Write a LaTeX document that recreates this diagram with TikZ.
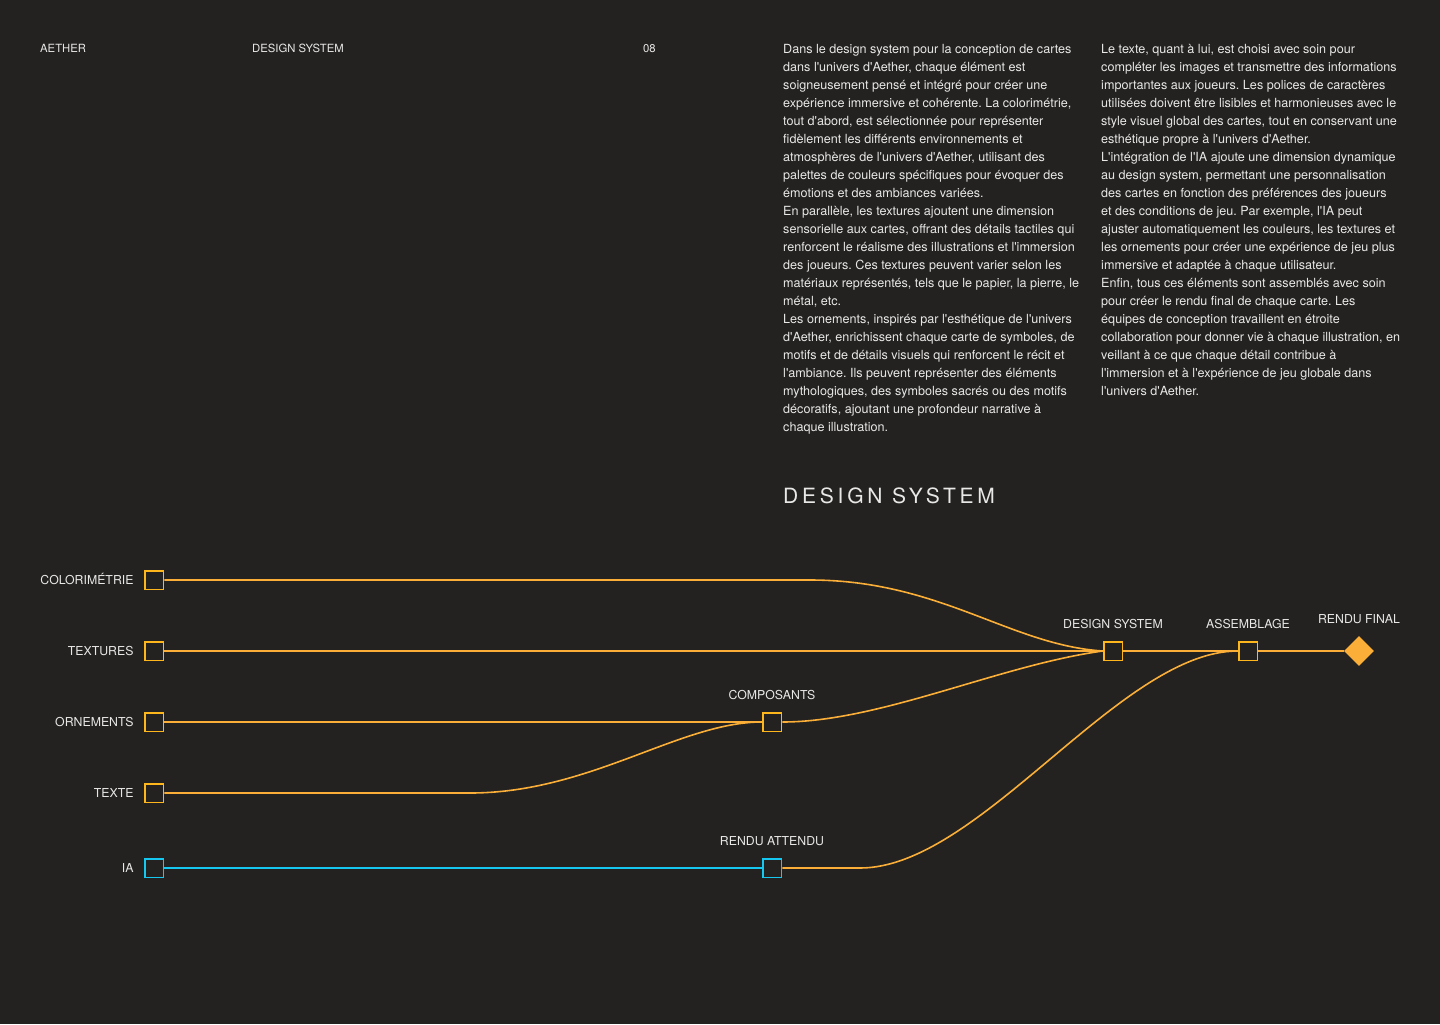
\documentclass[tikz,border=0pt]{standalone}
\usepackage{fontspec}
\setmainfont{TeX Gyre Heros}[Ligatures=TeXOff]
\usetikzlibrary{positioning,shapes.geometric}
\definecolor{AEBg}{HTML}{232221}
\definecolor{AEText}{HTML}{E8E8E6}
\definecolor{AEOrange}{HTML}{FBAF38}
\definecolor{AEAmber}{HTML}{FDB71C}
\definecolor{AECyan}{HTML}{16C8F0}
\newcommand{\AEbody}{\fontsize{12.6bp}{18bp}\selectfont\frenchspacing}

\begin{document}
\begin{tikzpicture}[x=1bp,y=-1bp,
  tag/.style={text=AEText,font=\fontsize{12.3bp}{15bp}\selectfont,inner sep=0pt,text height=8.9bp,text depth=0pt},
  head/.style={tag,font=\fontsize{11.3bp}{14bp}\selectfont,anchor=base west},
  para/.style={text=AEText,font=\AEbody,align=left,inner sep=0pt,anchor=base west},
  box/.style={draw=AEAmber,fill=AEBg,line width=1.8bp,minimum size=18.8bp,inner sep=0pt},
  aibox/.style={box,draw=AECyan},
  final/.style={diamond,fill=AEOrange,minimum size=30bp,inner sep=0pt},
  wire/.style={AEOrange,line width=1.6bp},
  aiwire/.style={wire,AECyan},
]
\useasboundingbox (0,0) rectangle (1440,1024);
\fill[AEBg] (0,0) rectangle (1440,1024);

% header
\node[head] (brand) at (40,52.2) {AETHER};
\node[head] (topic) at (252,52.2) {DESIGN SYSTEM};
\node[head] (page) at (643,52.2) {08};

% base is the last line of each column
\node[para] (colA) at (783,431.3) {Dans le design system pour la conception de cartes\\
dans l'univers d'Aether, chaque élément est\\
soigneusement pensé et intégré pour créer une\\
expérience immersive et cohérente. La colorimétrie,\\
tout d'abord, est sélectionnée pour représenter\\
fidèlement les différents environnements et\\
atmosphères de l'univers d'Aether, utilisant des\\
palettes de couleurs spécifiques pour évoquer des\\
émotions et des ambiances variées.\\
En parallèle, les textures ajoutent une dimension\\
sensorielle aux cartes, offrant des détails tactiles qui\\
renforcent le réalisme des illustrations et l'immersion\\
des joueurs. Ces textures peuvent varier selon les\\
matériaux représentés, tels que le papier, la pierre, le\\
métal, etc.\\
Les ornements, inspirés par l'esthétique de l'univers\\
d'Aether, enrichissent chaque carte de symboles, de\\
motifs et de détails visuels qui renforcent le récit et\\
l'ambiance. Ils peuvent représenter des éléments\\
mythologiques, des symboles sacrés ou des motifs\\
décoratifs, ajoutant une profondeur narrative à\\
chaque illustration.};

\node[para] (colB) at (1101,395.3) {Le texte, quant à lui, est choisi avec soin pour\\
compléter les images et transmettre des informations\\
importantes aux joueurs. Les polices de caractères\\
utilisées doivent être lisibles et harmonieuses avec le\\
style visuel global des cartes, tout en conservant une\\
esthétique propre à l'univers d'Aether.\\
L'intégration de l'IA ajoute une dimension dynamique\\
au design system, permettant une personnalisation\\
des cartes en fonction des préférences des joueurs\\
et des conditions de jeu. Par exemple, l'IA peut\\
ajuster automatiquement les couleurs, les textures et\\
les ornements pour créer une expérience de jeu plus\\
immersive et adaptée à chaque utilisateur.\\
Enfin, tous ces éléments sont assemblés avec soin\\
pour créer le rendu final de chaque carte. Les\\
équipes de conception travaillent en étroite\\
collaboration pour donner vie à chaque illustration, en\\
veillant à ce que chaque détail contribue à\\
l'immersion et à l'expérience de jeu globale dans\\
l'univers d'Aether.};

\node[anchor=base west,text=AEText,inner sep=0pt,font=\fontsize{21bp}{26bp}\selectfont\addfontfeature{LetterSpace=18}] (title) at (783,503.3) {DESIGN SYSTEM};

% sources
\node[box] (colo) at (154,580) {};
\node[box] (tex) at (154,651) {};
\node[box] (orn) at (154,722) {};
\node[box] (txt) at (154,793) {};
\node[aibox] (ia) at (154,868) {};
\node[tag,left=10bp of colo] (colo-l) {COLORIMÉTRIE};
\node[tag,left=10bp of tex] (tex-l) {TEXTURES};
\node[tag,left=10bp of orn] (orn-l) {ORNEMENTS};
\node[tag,left=10bp of txt] (txt-l) {TEXTE};
\node[tag,left=10bp of ia] (ia-l) {IA};

% steps
\node[box] (comp) at (772,722) {};
\node[aibox] (rat) at (772,868) {};
\node[box] (ds) at (1113,651) {};
\node[box] (asm) at (1248,651) {};
\node[final] (rf) at (1359,651) {};
\node[tag,above=12bp of comp] (comp-l) {COMPOSANTS};
\node[tag,above=12bp of rat] (rat-l) {RENDU ATTENDU};
\node[tag,above=12bp of ds] (ds-l) {DESIGN SYSTEM};
\node[tag,above=12bp of asm] (asm-l) {ASSEMBLAGE};
\node[tag,above=12bp of rf] (rf-l) {RENDU FINAL};

\coordinate (colo-bend) at (810,580);
\coordinate (txt-bend) at (470,793);
\coordinate (rat-bend) at (860,868);

\draw[wire] (colo.east) -- (colo-bend) .. controls (940,580) and (1010,645) .. (ds.west);
\draw[wire] (tex.east) -- (ds.west);
\draw[wire] (orn.east) -- (comp.west);
\draw[wire] (txt.east) -- (txt-bend) .. controls (590,793) and (680,722) .. (comp.west);
\draw[wire] (comp.east) .. controls (880,722) and (1000,665) .. (ds.west);
\draw[aiwire] (ia.east) -- (rat.west);
\draw[wire] (rat.east) -- (rat-bend) .. controls (980,868) and (1120,651) .. (asm.west);
\draw[wire] (ds.east) -- (asm.west);
\draw[wire] (asm.east) -- (rf.west);
\end{tikzpicture}
\end{document}
